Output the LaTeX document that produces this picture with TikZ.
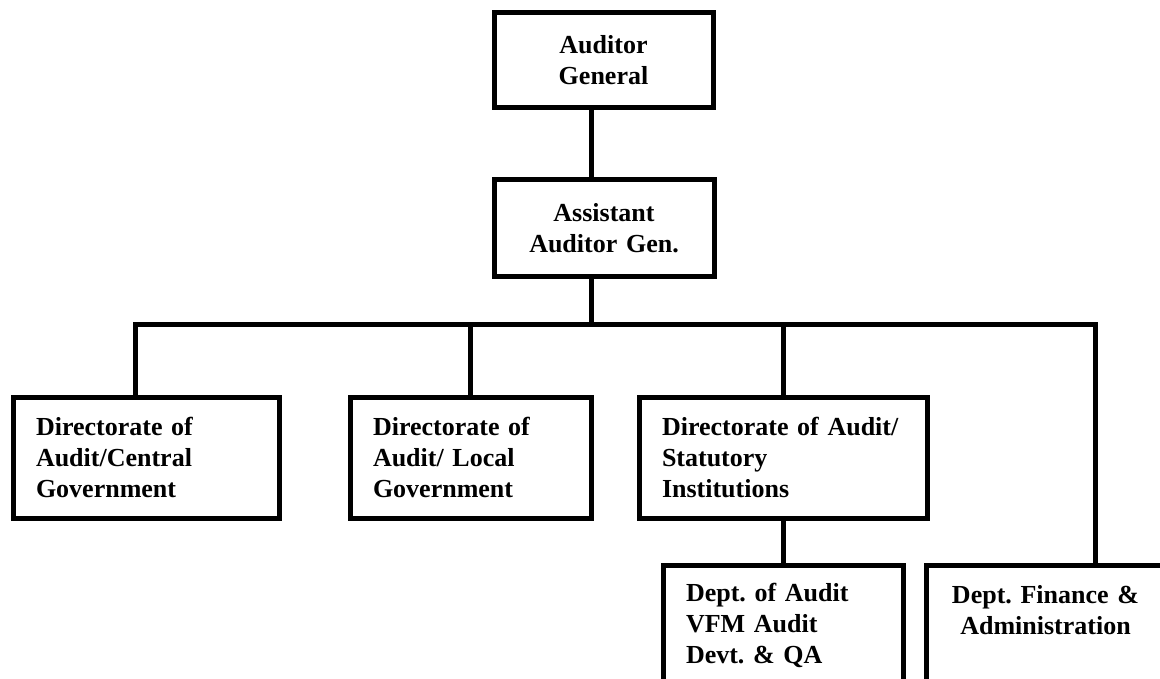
\documentclass[tikz,border=0pt]{standalone}
\usepackage{fontspec}
\setmainfont{Liberation Serif}
\frenchspacing
\usetikzlibrary{positioning, calc}

\begin{document}
\begin{tikzpicture}[
  x=1pt, y=-1pt,
  unit/.style={draw=black, line width=5pt, inner sep=0pt, inner xsep=23pt, align=left,
    font=\fontsize{26}{31}\selectfont\bfseries},
  link/.style={draw=black, line width=5pt}
]
  \useasboundingbox (0,0) rectangle (1160,679);
  \clip (0,0) rectangle (1160,679);

  \node[unit, align=center, text width=173pt, minimum height=95pt] (ag) at (603.5,60.5) {Auditor\\General};
  \node[unit, align=center, text width=174pt, minimum height=97pt] (aag) at (604,228.5) {Assistant\\Auditor Gen.};

  \node[unit, text width=220pt, minimum height=121pt] (dc) at (146,457.5) {Directorate of\\Audit/Central\\Government};
  \node[unit, text width=195pt, minimum height=121pt] (dl) at (470.5,457.5) {Directorate of\\Audit/ Local\\Government};
  \node[unit, text width=242pt, minimum height=121pt] (ds) at (783,457.5) {Directorate of Audit/\\Statutory\\Institutions};

  \node[unit, text width=194pt, minimum height=120pt] (da) at (783,625) {Dept. of Audit\\VFM Audit\\Devt. \& QA};
  \node[unit, align=center, text width=193pt, minimum height=120pt] (df) at (1045.5,625) {Dept. Finance \&\\Administration\\\mbox{}};

  \coordinate (spine) at (591,0);
  \coordinate (busL) at (135,324);
  \coordinate (busR) at (1095,324);

  \draw[link] (spine |- ag.south) -- (spine |- aag.north);
  \draw[link] (spine |- aag.south) -- (spine |- busL);
  \draw[link] (busL |- dc.north) -- (busL) -- (busR) -- (busR |- df.north);
  \draw[link] (dl.north) -- (dl.north |- busL);
  \draw[link] (ds.north) -- (ds.north |- busL);
  \draw[link] (ds.south) -- (da.north);
\end{tikzpicture}
\end{document}
